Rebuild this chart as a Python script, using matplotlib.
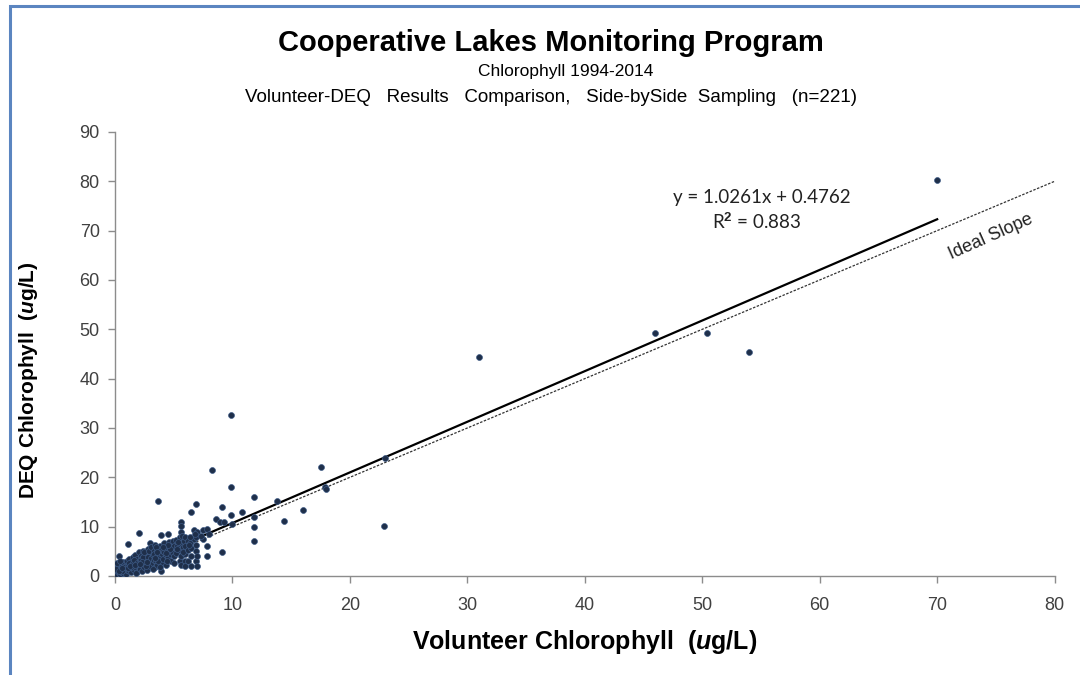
import numpy as np
import matplotlib
matplotlib.use("Agg")
import matplotlib.pyplot as plt
from matplotlib.patches import Rectangle

plt.rcParams['font.family'] = ['Liberation Sans', 'DejaVu Sans']
plt.rcParams['mathtext.fontset'] = 'custom'
plt.rcParams['mathtext.rm'] = 'Liberation Sans:bold'
plt.rcParams['mathtext.bfit'] = 'Liberation Sans:italic:bold'
plt.rcParams['mathtext.it'] = 'Liberation Sans:italic:bold'

# volunteer vs DEQ chlorophyll
volunteer = [
    0.1, 0.2, 0.2, 0.3, 0.3, 0.3, 0.4, 0.4, 0.5, 0.5, 0.5, 0.6, 0.6, 0.7, 0.7, 0.7, 0.8, 0.8, 0.9, 0.9,
    1.0, 1.0, 1.0, 0.2, 0.4, 0.6, 0.1, 0.8,
    1.1, 1.1, 1.2, 1.2, 1.3, 1.3, 1.4, 1.4, 1.5, 1.5, 1.6, 1.6, 1.7, 1.7, 1.8, 1.8, 1.9, 1.9, 2.0, 2.0,
    2.0, 1.2, 1.5, 1.6, 1.8, 1.4, 1.9, 1.1,
    2.1, 2.1, 2.2, 2.2, 2.3, 2.3, 2.4, 2.4, 2.5, 2.5, 2.6, 2.6, 2.7, 2.7, 2.8, 2.8, 2.9, 2.9, 3.0, 3.0,
    3.0, 2.2, 2.4, 2.6, 2.8, 2.5, 2.9, 2.3,
    3.1, 3.1, 3.2, 3.2, 3.3, 3.3, 3.4, 3.4, 3.5, 3.5, 3.6, 3.6, 3.7, 3.7, 3.8, 3.8, 3.9, 3.9, 3.9, 4.0,
    4.0, 3.3, 3.5, 3.7, 3.2, 3.6, 3.8,
    4.1, 4.1, 4.2, 4.3, 4.3, 4.4, 4.5, 4.5, 4.6, 4.6, 4.7, 4.8, 4.8, 4.9, 4.9, 5.0, 5.0, 4.2, 4.4, 4.7,
    5.0, 4.5, 4.1,
    5.2, 5.2, 5.3, 5.5, 5.5, 5.5, 5.6, 5.6, 5.6, 5.7, 5.6, 5.6, 5.6, 5.8, 5.9, 6.0, 6.0, 6.0, 6.0, 6.0,
    5.4, 5.8,
    6.2, 6.2, 6.2, 6.4, 6.5, 6.5, 6.5, 6.5, 6.7, 6.7, 6.9, 6.9, 6.9, 6.9, 6.9, 7.0, 7.0, 7.0, 6.4, 6.8,
    7.5, 7.8, 7.85, 7.85, 7.5, 7.3, 8.0, 8.26,
    8.6, 8.9, 9.3, 9.1, 9.1, 9.85, 9.85, 9.9, 10.0, 10.8, 11.8, 11.8, 11.8, 11.8, 13.8, 14.4, 16.0, 17.5,
    17.9, 18.0, 22.9, 23.0, 31.0, 46.0, 50.4, 54.0, 70.0,
    0.3, 0.6, 1.3, 1.7, 2.1, 2.7, 3.4, 4.3, 5.3, 6.3,
]
deq = [
    0.5, 1.0, 1.8, 0.8, 2.2, 4.1, 1.3, 0.3, 1.6, 2.5, 0.9, 1.2, 2.0, 0.6, 1.5, 2.8, 1.0, 2.2, 1.7, 0.4,
    1.3, 2.5, 3.1, 2.6, 3.0, 1.0, 1.4, 1.9,
    6.5, 2.0, 1.0, 3.5, 2.4, 1.5, 0.8, 2.9, 1.8, 3.8, 2.2, 1.2, 3.0, 4.2, 2.5, 1.6, 3.4, 0.9, 8.8, 2.0,
    4.8, 2.7, 2.6, 3.3, 0.6, 1.9, 2.7, 1.6,
    3.2, 1.5, 2.6, 4.0, 1.0, 3.6, 2.2, 5.0, 3.0, 1.8, 4.4, 2.8, 3.5, 1.3, 5.4, 2.4, 4.0, 3.1, 6.75, 2.0,
    4.6, 3.3, 3.9, 2.0, 3.8, 4.8, 5.0, 2.9,
    3.6, 5.8, 2.6, 4.2, 5.0, 3.2, 6.3, 1.8, 4.6, 3.0, 5.4, 2.2, 15.1, 4.0, 6.0, 3.4, 8.4, 1.0, 5.2, 4.4,
    2.6, 4.4, 5.8, 3.0, 1.4, 4.8, 1.8,
    5.0, 3.4, 6.6, 4.2, 2.2, 5.6, 8.6, 3.8, 5.0, 6.8, 4.4, 3.1, 5.8, 7.0, 4.6, 6.0, 2.6, 4.8, 3.0, 5.4,
    4.0, 6.2, 5.8,
    7.2, 4.6, 6.0, 3.1, 5.2, 7.8, 11.0, 10.1, 9.0, 8.1, 2.2, 4.0, 6.6, 5.8, 7.0, 3.0, 4.5, 6.0, 8.0, 2.0,
    6.8, 4.8,
    3.1, 5.3, 7.0, 6.6, 13.0, 4.0, 2.0, 5.6, 9.3, 7.4, 14.6, 3.1, 5.0, 6.2, 7.8, 9.0, 2.0, 4.1, 8.0, 8.6,
    9.3, 9.5, 6.1, 4.05, 7.5, 8.2, 8.5, 21.5,
    11.5, 11.0, 11.0, 14.0, 4.9, 32.7, 18.1, 12.4, 10.6, 13.0, 16.1, 12.0, 10.0, 7.1, 15.1, 11.2, 13.3, 22.0,
    18.0, 17.7, 10.1, 24.0, 44.3, 49.2, 49.2, 45.3, 80.2,
    1.1, 1.6, 2.0, 2.3, 2.4, 2.9, 3.7, 4.6, 5.4, 6.2,
]

slope = 1.0261
intercept = 0.4762
r2 = 0.883
xticks = [0, 10, 20, 30, 40, 50, 60, 70, 80]
yticks = [0, 10, 20, 30, 40, 50, 60, 70, 80, 90]

fig = plt.figure(figsize=(10.8, 6.75), dpi=100)
ax = fig.add_axes([0.1065, 0.1467, 0.870, 0.6578])

ax.scatter(volunteer, deq, s=18, color='#1f2f4a', edgecolor='#3d5a85',
           linewidths=0.5, zorder=3)

# trendline (excel style) and 1:1 line
xt = np.array([min(volunteer), max(volunteer)])
ax.plot(xt, slope * xt + intercept, color='black', lw=1.6, zorder=2)
xi = np.array([0, 80])
ax.plot(xi, xi, color='#333333', lw=0.9, ls=(0, (2, 1.2)), zorder=2)

ax.text(55.1, 76.8, 'y = %.4fx + %.4f' % (slope, intercept), ha='center', va='center',
        fontsize=13.5, family=['Lato', 'DejaVu Sans'], color='#222222')
ax.text(54.6, 71.8, 'R$^2$ = %.3f' % r2, ha='center', va='center',
        fontsize=13.5, family=['Lato', 'DejaVu Sans'], color='#222222')
ax.text(74.6, 68.8, 'Ideal Slope', ha='center', va='center', rotation=24,
        fontsize=13, color='#222222')

ax.set_xlim(0, 80)
ax.set_ylim(0, 90)
ax.set_xticks(xticks)
ax.set_yticks(yticks)
for s in ['top', 'right']:
    ax.spines[s].set_visible(False)
for s in ['left', 'bottom']:
    ax.spines[s].set_color('#8c8c8c')
    ax.spines[s].set_linewidth(1.0)
ax.tick_params(axis='both', colors='#8c8c8c', labelcolor='#404040', labelsize=13,
               length=5, width=1.0, direction='out')
ax.tick_params(axis='x', pad=10)
ax.tick_params(axis='y', pad=6)

ax.set_xlabel(r'Volunteer Chlorophyll  ($\mathbfit{u}$g/L)', fontsize=18, fontweight='bold',
              labelpad=10)
ax.set_ylabel(r'DEQ Chlorophyll  ($\mathbfit{u}$g/L)', fontsize=15, fontweight='bold')
ax.yaxis.set_label_coords(-0.08, 0.441)

fig.text(0.51, 0.937, 'Cooperative Lakes Monitoring Program', ha='center', va='center',
         fontsize=21, fontweight='bold')
fig.text(0.524, 0.894, 'Chlorophyll 1994-2014', ha='center', va='center', fontsize=12.5)
fig.text(0.51, 0.856, 'Volunteer-DEQ   Results   Comparison,   Side-bySide  Sampling   (n=221)',
         ha='center', va='center', fontsize=13.5)

# blue frame of the original chart box
fig.add_artist(Rectangle((10 / 1080, -0.02), 1.1, 1 - 6 / 675 + 0.02, transform=fig.transFigure,
                         fill=False, edgecolor='#5b85c0', lw=2.2))

fig.savefig('out.png', dpi=100)
